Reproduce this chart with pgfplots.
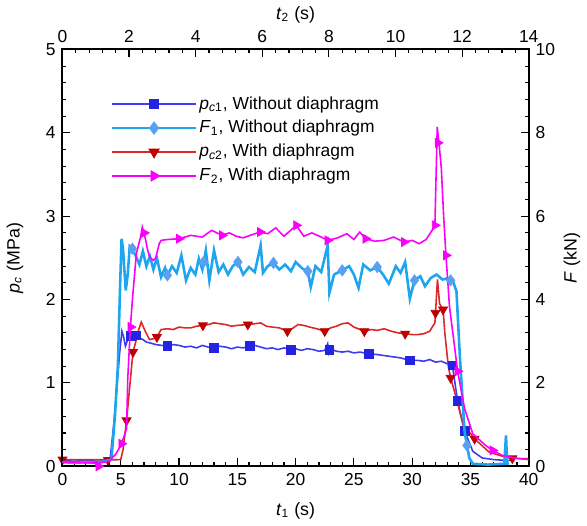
\documentclass[border=0pt]{standalone}
\usepackage{fontspec}
\setmainfont{Liberation Sans}
\usepackage{pgfplots}
\pgfplotsset{compat=1.18}

\definecolor{pcone}{RGB}{60,60,240}
\definecolor{pconemk}{RGB}{35,35,225}
\definecolor{fone}{RGB}{30,165,240}
\definecolor{fonemk}{RGB}{90,160,240}
\definecolor{pctwo}{RGB}{220,40,40}
\definecolor{pctwomk}{RGB}{190,0,0}
\definecolor{ftwo}{RGB}{250,0,250}

\pgfplotsset{
  base/.style={
    scale only axis, width=235.5pt, height=210.5pt,
    tick align=inside, major tick length=4pt, minor tick length=2pt,
    tick style={black, line width=0.6pt},
    axis line style={line width=1pt},
    tick label style={font=\fontsize{8.8}{10}\selectfont},
    label style={font=\fontsize{9}{11}\selectfont},
    /pgf/number format/assume math mode=true,
    minor x tick num=4, minor y tick num=4,
  },
  ln/.style={line width=0.8pt, forget plot},
}

\begin{document}
\begin{tikzpicture}
% pressure, bottom/left axes
\begin{axis}[base,
  xmin=0, xmax=40, ymin=0, ymax=5,
  xtick={0,5,...,40}, ytick={0,1,...,5},
  xtick pos=left, ytick pos=left,
  xlabel={\textit{t}\textsubscript{1} (s)},
  ylabel={\textit{p}\textsubscript{\textit{c}} (MPa)},
  xlabel style={at={(axis description cs:0.5,-0.107)}, anchor=center},
  ylabel style={at={(axis description cs:-0.102,0.5)}, anchor=center},
]
\addplot[pcone, ln] coordinates {
(0,0.07)(1,0.06)(2,0.07)(3,0.06)(3.9,0.07)(4.1,0.1)(4.4,0.5)(4.7,1.0)(4.9,1.35)(5.1,1.62)(5.25,1.55)(5.4,1.44)(5.6,1.52)(5.75,1.60)(5.9,1.56)(6.1,1.52)(6.3,1.57)(6.6,1.54)(6.9,1.52)(7.2,1.49)(7.5,1.48)(8.0,1.46)(8.5,1.45)(9.0,1.44)(9.5,1.46)(10,1.45)(10.5,1.43)(11,1.44)(11.5,1.42)(12,1.45)(12.5,1.43)(13,1.42)(13.5,1.44)(14,1.43)(14.5,1.41)(15,1.43)(15.5,1.42)(16,1.44)(16.5,1.45)(17,1.43)(17.5,1.41)(18,1.42)(18.5,1.40)(19,1.42)(19.6,1.40)(20,1.41)(20.5,1.39)(21,1.41)(21.5,1.40)(22,1.38)(22.5,1.39)(22.75,1.47)(22.85,1.35)(23.1,1.40)(23.5,1.38)(24,1.37)(24.5,1.38)(25,1.36)(25.5,1.37)(26.3,1.35)(27,1.34)(27.5,1.33)(28,1.32)(28.5,1.31)(29,1.30)(29.8,1.27)(30.5,1.27)(31,1.26)(31.5,1.28)(32,1.25)(32.5,1.26)(33,1.23)(33.45,1.21)(33.9,0.78)(34.5,0.42)(35.2,0.18)(36,0.10)(37,0.08)(38,0.07)(38.5,0.07)
};
\addplot[only marks, mark=square*, mark size=2.2pt, pconemk, forget plot] coordinates {
(5.9,1.56)(6.3,1.57)(9.0,1.44)(13.0,1.42)(16.1,1.44)(19.6,1.40)(22.9,1.40)(26.3,1.35)(29.8,1.27)(33.45,1.21)(33.9,0.78)(34.5,0.42)
};
\addplot[pctwo, ln] coordinates {
(0,0.08)(1,0.08)(2,0.08)(3,0.08)(3.9,0.075)(5.0,0.08)(5.2,0.2)(5.5,0.55)(5.8,1.0)(6.05,1.37)(6.3,1.5)(6.5,1.62)(6.76,1.73)(7.1,1.62)(7.47,1.52)(7.8,1.53)(8.1,1.55)(8.46,1.64)(9,1.65)(9.5,1.64)(10,1.67)(10.5,1.66)(11,1.66)(11.5,1.68)(12.05,1.69)(12.5,1.70)(13,1.72)(13.5,1.71)(14,1.70)(14.5,1.68)(15,1.69)(15.9,1.70)(16.5,1.71)(17,1.72)(17.5,1.68)(18,1.67)(18.6,1.66)(19.3,1.62)(19.8,1.66)(20.2,1.70)(20.7,1.69)(21.2,1.67)(21.8,1.65)(22.5,1.62)(23,1.66)(23.5,1.68)(24,1.71)(24.5,1.72)(25,1.67)(25.9,1.62)(26.5,1.64)(27,1.63)(27.6,1.65)(28.2,1.62)(28.8,1.60)(29.4,1.59)(30,1.58)(30.5,1.58)(31,1.59)(31.5,1.62)(31.95,1.72)(32.17,2.24)(32.35,1.95)(32.65,1.88)(32.8,1.60)(33.1,1.20)(33.3,1.06)(33.8,0.81)(34.35,0.51)(35.35,0.33)(36.6,0.17)(37.75,0.12)(38.6,0.095)(40,0.09)
};
\addplot[only marks, mark=triangle*, mark size=2.6pt, pctwomk, mark options={rotate=180}, forget plot] coordinates {
(0,0.08)(3.9,0.075)(5.5,0.55)(6.05,1.37)(8.1,1.55)(12.05,1.69)(15.9,1.70)(19.3,1.62)(22.5,1.62)(25.9,1.62)(29.4,1.59)(32.0,1.84)(32.65,1.88)(33.3,1.06)(35.35,0.33)(38.6,0.095)
};
\end{axis}
% force, top/right axes
\begin{axis}[base,
  xmin=0, xmax=14, ymin=0, ymax=10,
  xtick={0,2,...,14}, ytick={0,2,...,10},
  xtick pos=right, ytick pos=right,
  xticklabel pos=right, yticklabel pos=right,
  xlabel={\textit{t}\textsubscript{2} (s)},
  ylabel={\textit{F} (kN)},
  xlabel style={at={(axis description cs:0.5,1.083)}, anchor=center},
  ylabel style={at={(axis description cs:1.093,0.5)}, anchor=center},
  legend cell align=left,
  legend image code/.code={\draw[mark repeat=2, mark phase=2] plot coordinates {(0pt,0pt) (21pt,0pt) (42pt,0pt)};},
  legend style={draw=none, fill=none, at={(axis description cs:0.092,0.905)}, anchor=north west,
    font=\fontsize{8.8}{10}\selectfont, row sep=1.2pt, nodes={inner sep=1.5pt}},
]
\addlegendimage{pcone, line width=0.8pt, mark=square*, mark size=2.2pt, mark options={fill=pconemk, draw=pconemk}}
\addlegendentry{\textit{p}\textsubscript{\textit{c}1}, Without diaphragm}
\addlegendimage{fone, line width=0.8pt, mark=diamond*, mark size=2.8pt, mark options={fill=fonemk, draw=fonemk}}
\addlegendentry{\textit{F}\textsubscript{1}, Without diaphragm}
\addlegendimage{pctwo, line width=0.8pt, mark=triangle*, mark size=2.6pt, mark options={fill=pctwomk, draw=pctwomk, rotate=180}}
\addlegendentry{\textit{p}\textsubscript{\textit{c}2}, With diaphragm}
\addlegendimage{ftwo, line width=0.8pt, mark=triangle*, mark size=2.6pt, mark options={fill=ftwo, draw=ftwo, rotate=-90}}
\addlegendentry{\textit{F}\textsubscript{2}, With diaphragm}

\addplot[fone, line width=1.3pt, forget plot] coordinates {
(0,0.10)(0.35,0.08)(0.70,0.10)(1.05,0.08)(1.47,0.16)(1.575,1.2)(1.663,2.4)(1.733,4.4)(1.775,5.46)(1.82,5.2)(1.90,4.22)(1.96,4.6)(2.02,5.28)(2.10,5.22)(2.205,5.04)(2.31,4.84)(2.415,5.16)(2.52,4.80)(2.625,5.04)(2.73,4.72)(2.835,5.0)(2.96,4.54)(3.08,4.76)(3.15,4.58)(3.29,4.80)(3.43,4.64)(3.57,5.06)(3.71,4.46)(3.85,4.76)(3.99,4.60)(4.095,4.98)(4.20,4.72)(4.305,5.18)(4.41,4.46)(4.55,5.18)(4.69,4.66)(4.83,4.84)(4.97,4.60)(5.11,4.80)(5.2675,4.90)(5.425,4.60)(5.60,4.78)(5.775,4.66)(5.95,5.30)(6.02,4.64)(6.16,4.80)(6.335,4.88)(6.51,4.72)(6.685,4.84)(6.86,4.68)(7.00,4.90)(7.21,4.74)(7.3675,4.68)(7.455,4.30)(7.595,4.80)(7.77,4.66)(7.9625,5.30)(8.015,4.16)(8.155,4.60)(8.40,4.70)(8.61,4.80)(8.75,4.60)(8.89,4.28)(9.03,4.84)(9.24,4.70)(9.45,4.78)(9.625,4.60)(9.80,4.38)(10.01,4.80)(10.15,4.64)(10.29,4.90)(10.43,4.02)(10.57,4.46)(10.745,4.56)(10.885,4.32)(11.06,4.52)(11.235,4.60)(11.41,4.48)(11.62,4.52)(11.725,4.44)(11.83,4.2)(11.935,2.6)(12.075,0.82)(12.215,0.20)(12.32,0.06)(12.775,0.04)(13.265,0.06)(13.3175,0.74)(13.3525,0.06)(13.405,0.06)
};
\addplot[only marks, mark=diamond*, mark size=2.8pt, fonemk, forget plot] coordinates {
(2.10,5.22)(3.15,4.58)(4.235,4.90)(5.2675,4.90)(6.335,4.88)(7.3675,4.68)(8.40,4.70)(9.45,4.78)(10.57,4.46)(11.655,4.46)(12.145,0.5)
};
\addplot[ftwo, ln] coordinates {
(0,0.10)(0.35,0.10)(0.70,0.08)(0.98,0.08)(1.0675,-0.10)(1.12,0.08)(1.40,0.12)(1.61,0.30)(1.7745,0.54)(1.925,0.90)(1.96,2.10)(2.0405,3.34)(2.10,4.00)(2.219,5.10)(2.345,5.50)(2.3975,5.74)(2.4675,5.54)(2.555,5.20)(2.6145,5.02)(2.73,4.94)(2.80,5.00)(2.905,5.34)(2.961,5.42)(3.15,5.44)(3.50,5.46)(3.85,5.54)(4.20,5.50)(4.48,5.66)(4.795,5.54)(5.005,5.60)(5.215,5.52)(5.425,5.48)(5.705,5.56)(5.9325,5.62)(6.16,5.58)(6.405,5.72)(6.65,5.52)(7.021,5.78)(7.245,5.52)(7.49,5.60)(7.77,5.50)(7.9625,5.42)(8.26,5.48)(8.54,5.58)(8.75,5.44)(8.925,5.62)(9.10,5.46)(9.38,5.40)(9.66,5.42)(9.94,5.50)(10.255,5.38)(10.50,5.42)(10.71,5.34)(10.92,5.44)(11.13,5.70)(11.1825,5.78)(11.2525,8.14)(11.305,7.76)(11.375,7.16)(11.445,6.00)(11.515,5.06)(11.62,3.84)(11.865,2.28)(12.075,1.38)(12.32,0.78)(12.705,0.50)(12.915,0.38)(13.2125,0.26)(13.615,0.19)(14.0,0.16)
};
\addplot[only marks, mark=triangle*, mark size=2.6pt, ftwo, mark options={rotate=-90}, forget plot] coordinates {
(1.085,0.0)(1.7745,0.54)(2.0475,3.34)(2.45,5.6)(3.50,5.46)(4.795,5.54)(5.9325,5.62)(7.021,5.78)(7.9625,5.42)(9.10,5.46)(10.255,5.38)(11.1825,5.78)(11.27,7.76)(11.515,5.06)(11.865,2.28)(12.915,0.38)
};
\end{axis}
\end{tikzpicture}
\end{document}
